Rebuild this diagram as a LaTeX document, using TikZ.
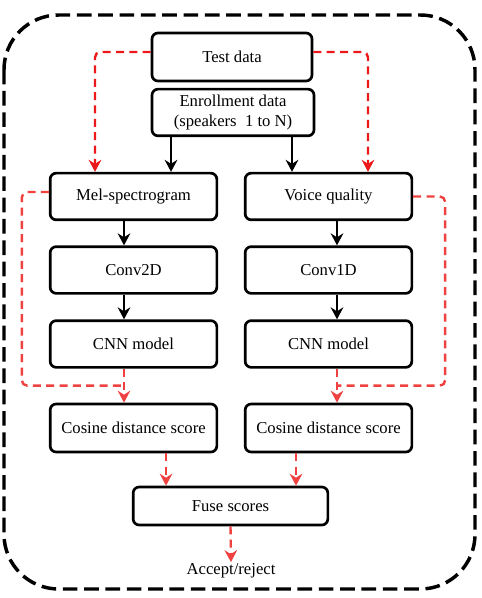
\documentclass[tikz,border=0pt]{standalone}
\usepackage{fontspec}
\setmainfont{Liberation Serif}
\usetikzlibrary{calc}
\usetikzlibrary{arrows.meta}

\definecolor{testred}{RGB}{235,25,25}
\definecolor{lossred}{RGB}{240,65,65}

\begin{document}
\begin{tikzpicture}[
			x=0.75pt, y=-0.75pt,
			block/.style={
				draw=black,
				line width=2pt,
				rounded corners=4.5pt,
				font=\fontsize{12.5}{14.5}\selectfont,
				align=center,
				inner sep=0pt,
				minimum width=125pt,
				minimum height=35pt,
			},
			blkarrow/.style={
				line width=1.8pt,
				-{Stealth[length=9pt,width=9.5pt,inset=3pt]},
			},
			redarrow/.style={
				line width=1.8pt,
				dash pattern=on 6pt off 4pt,
				rounded corners=4pt,
				draw=lossred,
				-{Stealth[length=9pt,width=9.5pt,inset=3pt,fill=lossred]},
			},
			redline/.style={
				line width=1.8pt,
				dash pattern=on 6pt off 4pt,
				rounded corners=4pt,
				draw=lossred,
			},
			]
			\useasboundingbox (0,0) rectangle (481,598);
			%% outer frame
			\draw[line width=2.6pt, dash pattern=on 11pt off 5pt, rounded corners=41pt] (4,15) rectangle (475,589);
			%% blocks
			\node[block, minimum width=120pt, minimum height=36pt] (test) at (232,57) {Test data};
			\node[block, minimum width=121.5pt] (enroll) at (233,112.5) {Enrollment data\\(speakers\ \ 1 to N)};
			\node[block] (mel) at (133.5,196.5) {Mel-spectrogram};
			\node[block] (voice) at (328.5,196.5) {Voice quality};
			\node[block] (convA) at (133.5,270) {Conv2D};
			\node[block] (convB) at (328.5,270) {Conv1D};
			\node[block] (cnnA) at (133.5,344) {CNN model};
			\node[block] (cnnB) at (328.5,344) {CNN model};
			\node[block, minimum height=36pt] (cosA) at (133.5,428) {Cosine distance score};
			\node[block, minimum height=36pt] (cosB) at (328.5,428) {Cosine distance score};
			\node[block, minimum width=146pt, minimum height=28.5pt] (fuse) at (230.5,506) {Fuse scores};
			\node[font=\fontsize{12.5}{14.5}\selectfont, inner sep=1pt] (decision) at (231,571) {Accept/reject};
			%% enrollment path
			\draw[blkarrow] ($(enroll.south)+(-62,0)$) -- ($(mel.north)+(37.5,0)$);
			\draw[blkarrow] ($(enroll.south)+(59,0)$) -- ($(voice.north)+(-36.5,0)$);
			\draw[blkarrow] ($(mel.south)+(-9.5,0)$) -- ($(convA.north)+(-9.5,0)$);
			\draw[blkarrow] ($(voice.south)+(8.5,0)$) -- ($(convB.north)+(8.5,0)$);
			\draw[blkarrow] ($(convA.south)+(-9.5,0)$) -- ($(cnnA.north)+(-9.5,0)$);
			\draw[blkarrow] ($(convB.south)+(8.5,0)$) -- ($(cnnB.north)+(8.5,0)$);
			%% test path
			\draw[redarrow, draw=testred, -{Stealth[length=9pt,width=9.5pt,inset=3pt,fill=testred]}] ($(test.west)+(0,-5)$) -| ($(mel.north)+(-38.5,0)$);
			\draw[redarrow, draw=testred, -{Stealth[length=9pt,width=9.5pt,inset=3pt,fill=testred]}] ($(test.east)+(0,-5)$) -| ($(voice.north)+(39.5,0)$);
			\draw[redline] ($(mel.west)+(0,-4.5)$) -- ++(-27,0) |- ($(cnnA.south)!0.5!(cosA.north)+(-9.5,0)$);
			\draw[redline] (voice.east) -- ++(32,0) |- ($(cnnB.south)!0.5!(cosB.north)+(8.5,0)$);
			\draw[redarrow] ($(cnnA.south)+(-9.5,0)$) -- ($(cosA.north)+(-9.5,0)$);
			\draw[redarrow] ($(cnnB.south)+(8.5,0)$) -- ($(cosB.north)+(8.5,0)$);
			%% scores
			\draw[redarrow] ($(cosA.south)+(32.5,0)$) -- ($(fuse.north)+(-64.5,0)$);
			\draw[redarrow] ($(cosB.south)+(-32.5,0)$) -- ($(fuse.north)+(65.5,0)$);
			\draw[redarrow] (fuse.south) -- (decision.north);
		\end{tikzpicture}
\end{document}
